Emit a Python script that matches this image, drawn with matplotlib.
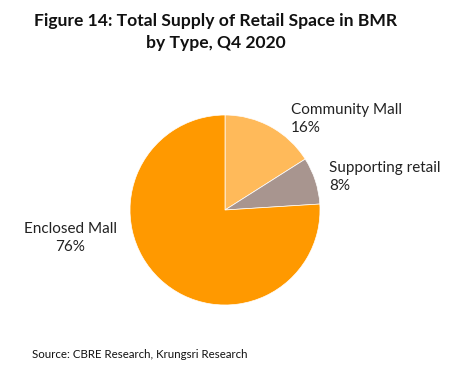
import matplotlib.pyplot as plt

# Data
categories = ['Community Mall', 'Supporting retail', 'Enclosed Mall']
shares = [16, 8, 76]
colors = ['#FFBA5A', '#A8958F', '#FF9900']

plt.rcParams['font.family'] = ['Lato', 'DejaVu Sans']

H = 369  # figure height in px; positions below are measured from the top

fig = plt.figure(figsize=(4.69, 3.69), dpi=100)
ax = fig.add_axes([0, 0, 1, 1])

# Pie centred at (225, 210 from top), radius 95 px
ax.pie(shares, colors=colors, startangle=90, counterclock=False,
       center=(225, H - 210), radius=95,
       wedgeprops=dict(linewidth=0.5, edgecolor='white'))
ax.set_xlim(0, 469)
ax.set_ylim(0, H)
ax.set_aspect('equal')
ax.axis('off')

# Title
ax.text(216, H - 21, 'Figure 14: Total Supply of Retail Space in BMR', ha='center', va='center',
        fontsize=12.6, fontweight='bold', color='#111111')
ax.text(216, H - 43, 'by Type, Q4 2020', ha='center', va='center',
        fontsize=12.6, fontweight='bold', color='#111111')

# Labels
label_pos = [(291, 119, 'left'), (329, 177, 'left'), (70, 238, 'center')]
for (x, y, ha), name, v in zip(label_pos, categories, shares):
    ax.text(x, H - y, f'{name}\n{v}%', ha=ha, va='center', fontsize=11,
            color='#222222', linespacing=1.35, multialignment=ha)

# Source
ax.text(32, H - 354, 'Source: CBRE Research, Krungsri Research', ha='left', va='center',
        fontsize=8.3, color='#111111')

fig.savefig('out.png', dpi=100)
